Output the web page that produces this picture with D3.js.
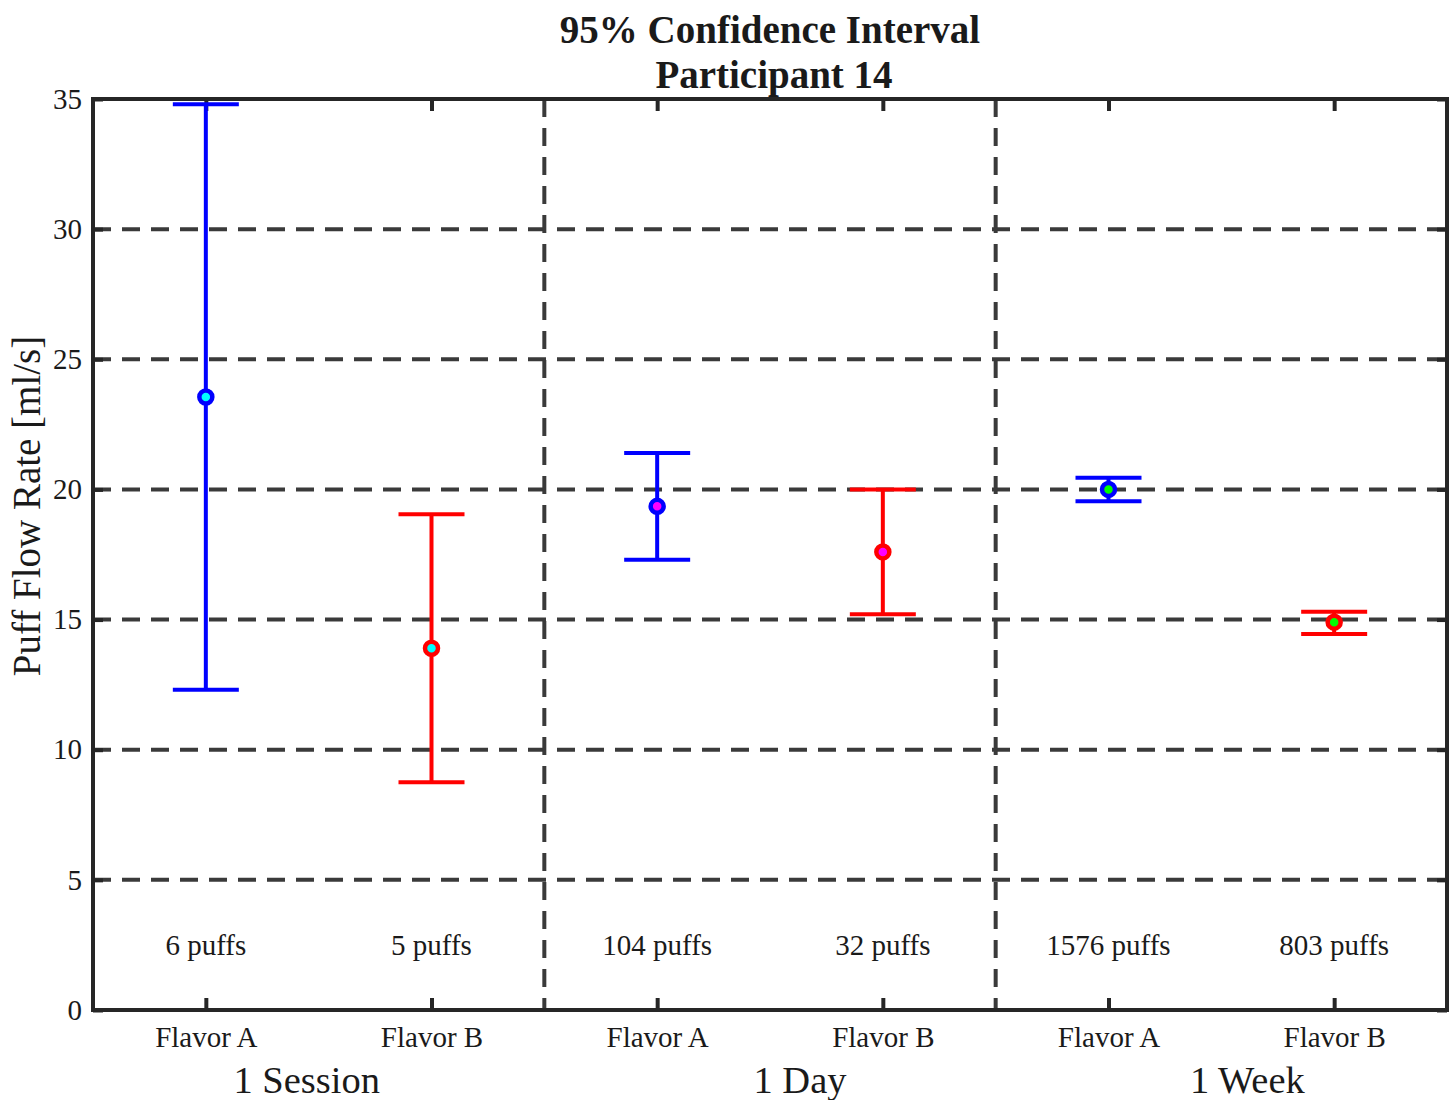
<!DOCTYPE html>
<html>
<head>
<meta charset="utf-8">
<script src="https://cdn.jsdelivr.net/npm/d3@7"></script>
<style>
  body { margin: 0; background: #fff; }
  text { font-family: "Liberation Serif", "Times New Roman", serif; fill: #1a1a1a; }
</style>
</head>
<body>
<div id="chart"></div>
<script>
// data
var flavors = ["Flavor A", "Flavor B", "Flavor A", "Flavor B", "Flavor A", "Flavor B"];
var periods = ["1 Session", "1 Day", "1 Week"];
var means = [23.55, 13.9, 19.35, 17.6, 20.0, 14.9];
var lows = [12.3, 8.75, 17.3, 15.2, 19.55, 14.45];
var highs = [34.8, 19.05, 21.4, 20.0, 20.45, 15.3];
var puffs = ["6 puffs", "5 puffs", "104 puffs", "32 puffs", "1576 puffs", "803 puffs"];
var lineColors = ["#0000ff", "#ff0000", "#0000ff", "#ff0000", "#0000ff", "#ff0000"];
var dotColors = ["#00ffff", "#00ffff", "#ff00ff", "#ff00ff", "#00ff00", "#00ff00"];
var yTicks = [0, 5, 10, 15, 20, 25, 30, 35];

var svgWidth = 1453, svgHeight = 1100;
var margin = { top: 99, right: 6, bottom: 90, left: 93 };
var chart_width = svgWidth - margin.left - margin.right;
var chart_height = svgHeight - margin.top - margin.bottom;

var svg = d3.select("#chart").append("svg")
    .attr("width", svgWidth)
    .attr("height", svgHeight);

var chart = svg.append("g")
    .attr("transform", `translate(${margin.left}, ${margin.top})`);

var xScale = d3.scaleLinear().domain([0.5, 6.5]).range([0, chart_width]);
var yScale = d3.scaleLinear().domain([0, 35]).range([chart_height, 0]);

var idx = d3.range(6);

// horizontal dashed grid
chart.append("g").selectAll("line")
    .data(yTicks.filter(d => d > 0 && d < 35))
    .enter().append("line")
    .attr("x1", 0).attr("x2", chart_width)
    .attr("y1", d => yScale(d)).attr("y2", d => yScale(d))
    .attr("stroke", "#3a3a3a").attr("stroke-width", 4)
    .attr("stroke-dasharray", "18,11");

// vertical dividers between periods
chart.append("g").selectAll("line")
    .data([2.5, 4.5])
    .enter().append("line")
    .attr("x1", d => xScale(d)).attr("x2", d => xScale(d))
    .attr("y1", 0).attr("y2", chart_height)
    .attr("stroke", "#3a3a3a").attr("stroke-width", 4)
    .attr("stroke-dasharray", "18,11");

// axes
var leftAxis = d3.axisLeft(yScale).tickValues(yTicks).tickSizeInner(-10).tickSizeOuter(0).tickPadding(11);
var bottomAxis = d3.axisBottom(xScale).tickValues(idx.map(i => i + 1)).tickFormat(d => flavors[d - 1])
    .tickSizeInner(-12).tickSizeOuter(0).tickPadding(16);
var topAxis = d3.axisTop(xScale).tickValues(idx.map(i => i + 1)).tickFormat("").tickSizeInner(-12).tickSizeOuter(0);
var rightAxis = d3.axisRight(yScale).tickValues(yTicks).tickFormat("").tickSizeInner(-10).tickSizeOuter(0);

function styleAxis(g) {
    g.attr("font-family", null);
    g.select(".domain").remove();
    g.selectAll(".tick line").attr("stroke", "#262626").attr("stroke-width", 4);
    g.selectAll(".tick text").attr("font-size", 29).attr("fill", "#262626");
}

chart.append("g").call(leftAxis).call(styleAxis);
chart.append("g").attr("transform", `translate(0, ${chart_height})`).call(bottomAxis).call(styleAxis);
chart.append("g").call(topAxis).call(styleAxis);
chart.append("g").attr("transform", `translate(${chart_width}, 0)`).call(rightAxis).call(styleAxis);

// frame
chart.append("rect")
    .attr("x", 0).attr("y", 0)
    .attr("width", chart_width).attr("height", chart_height)
    .attr("fill", "none").attr("stroke", "#262626").attr("stroke-width", 4);

// error bars
var bars = chart.append("g").selectAll("g")
    .data(idx)
    .enter().append("g");

bars.append("line")
    .attr("x1", i => xScale(i + 1)).attr("x2", i => xScale(i + 1))
    .attr("y1", i => yScale(lows[i])).attr("y2", i => yScale(highs[i]))
    .attr("stroke", i => lineColors[i]).attr("stroke-width", 4);

bars.selectAll(".cap")
    .data(i => [[i, lows[i]], [i, highs[i]]])
    .enter().append("line")
    .attr("class", "cap")
    .attr("x1", d => xScale(d[0] + 1) - 33).attr("x2", d => xScale(d[0] + 1) + 33)
    .attr("y1", d => yScale(d[1])).attr("y2", d => yScale(d[1]))
    .attr("stroke", d => lineColors[d[0]]).attr("stroke-width", 4);

bars.append("circle")
    .attr("cx", i => xScale(i + 1))
    .attr("cy", i => yScale(means[i]))
    .attr("r", 6.5)
    .attr("fill", i => dotColors[i])
    .attr("stroke", i => lineColors[i])
    .attr("stroke-width", 4.5);

// puff counts
chart.append("g").selectAll("text")
    .data(idx)
    .enter().append("text")
    .attr("x", i => xScale(i + 1))
    .attr("y", yScale(2.35))
    .attr("text-anchor", "middle")
    .attr("dominant-baseline", "middle")
    .attr("font-size", 29)
    .text(i => puffs[i]);

// period labels
var periodShift = [-12, 30, 26];
chart.append("g").selectAll("text")
    .data(periods)
    .enter().append("text")
    .attr("x", (d, j) => xScale(2 * j + 1.5) + periodShift[j])
    .attr("y", chart_height + 83)
    .attr("text-anchor", "middle")
    .attr("font-size", 38.5)
    .text(d => d);

// y label
chart.append("text")
    .attr("transform", "rotate(-90)")
    .attr("x", -(506 - margin.top))
    .attr("y", -margin.left + 40)
    .attr("text-anchor", "middle")
    .attr("font-size", 39)
    .text("Puff Flow Rate [ml/s]");

// title
svg.append("text")
    .attr("x", 770).attr("y", 43)
    .attr("text-anchor", "middle")
    .attr("font-size", 39).attr("font-weight", "bold")
    .text("95% Confidence Interval");
svg.append("text")
    .attr("x", 774).attr("y", 88)
    .attr("text-anchor", "middle")
    .attr("font-size", 39).attr("font-weight", "bold")
    .text("Participant 14");
</script>
</body>
</html>
